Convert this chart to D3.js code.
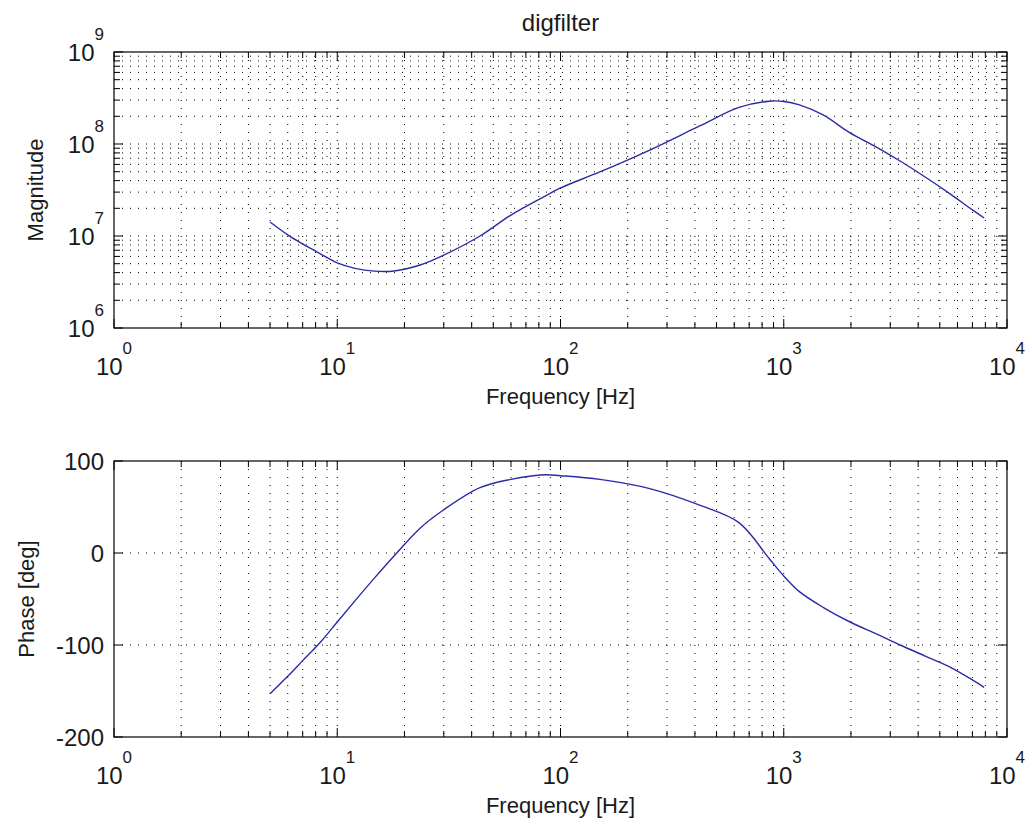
<!DOCTYPE html>
<html>
<head>
<meta charset="utf-8">
<script src="https://cdn.jsdelivr.net/npm/d3@7"></script>
<style>
  body { margin: 0; background: #fff; }
  svg { display: block; font-family: "Liberation Sans", Arial, sans-serif; }
</style>
</head>
<body>
<svg id="chart" width="1032" height="833"></svg>
<script>
// values
const freq  = [5, 6, 7, 8.4, 10, 12, 14.7, 18, 23.5, 30, 43.6, 60, 85, 100, 150, 251, 420, 630, 860, 1000, 1175, 1500, 1980, 2600, 3320, 4300, 5560, 7000, 7900];
const mag   = [1.42e7, 1.03e7, 8.2e6, 6.4e6, 5.1e6, 4.45e6, 4.15e6, 4.17e6, 4.84e6, 6.2e6, 1.0e7, 1.69e7, 2.7e7, 3.33e7, 4.97e7, 8.6e7, 1.57e8, 2.5e8, 2.92e8, 2.9e8, 2.66e8, 2.07e8, 1.32e8, 9.27e7, 6.53e7, 4.38e7, 2.87e7, 1.92e7, 1.57e7];
const phase = [-153, -134, -117, -97, -75, -52, -27, -3, 27, 47, 71, 80, 85, 84, 80, 70, 52, 33, -6, -25, -42, -59, -75, -88, -100, -112, -124, -138, -146];

const freqTicks  = [1, 10, 100, 1000, 10000];
const magTicks   = [1e6, 1e7, 1e8, 1e9];
const phaseTicks = [-200, -100, 0, 100];

const title = "digfilter";
const xLabel = "Frequency [Hz]";
const magLabel = "Magnitude";
const phaseLabel = "Phase [deg]";

const svg = d3.select("#chart");
const left = 114, right = 1007;
const lineColor = "#2b2ba6";
const textColor = "#1a1a1a";

const x = d3.scaleLog().domain([1, 1e4]).range([left, right]);

// minor values for a log range, 2..9 x 10^k
function logMinor(lo, hi) {
  const out = [];
  for (let e = Math.log10(lo); e < Math.log10(hi); e++) {
    for (let m = 2; m <= 9; m++) out.push(m * Math.pow(10, e));
  }
  return out;
}

function pow10Label(sel, v) {
  const e = Math.round(Math.log10(v));
  sel.append("tspan").text("10");
  sel.append("tspan").attr("dy", -21).attr("font-size", 17).text(e);
}

function panel(top, bottom, y, yMajor, yMinor, yLog, values, ylab, ylabX) {
  const g = svg.append("g");
  const xMinor = logMinor(1, 1e4);

  // grid
  const grid = g.append("g")
    .attr("stroke", "#000").attr("stroke-width", 1)
    .attr("stroke-dasharray", "1,7").attr("fill", "none");
  xMinor.concat(freqTicks.slice(1, -1)).forEach(v => {
    grid.append("line").attr("x1", x(v)).attr("x2", x(v)).attr("y1", top).attr("y2", bottom);
  });
  yMinor.concat(yMajor.slice(1, -1)).forEach(v => {
    grid.append("line").attr("x1", left).attr("x2", right).attr("y1", y(v)).attr("y2", y(v));
  });

  // curve
  const line = d3.line()
    .x((d, i) => x(freq[i]))
    .y(d => y(d))
    .curve(d3.curveCatmullRom.alpha(0.5));
  g.append("path")
    .datum(values)
    .attr("d", line)
    .attr("fill", "none")
    .attr("stroke", lineColor)
    .attr("stroke-width", 1.4);

  // ticks on all four sides, pointing in
  const tk = g.append("g").attr("stroke", "#000").attr("stroke-width", 1);
  freqTicks.forEach(v => {
    tk.append("line").attr("x1", x(v)).attr("x2", x(v)).attr("y1", bottom).attr("y2", bottom - 9);
    tk.append("line").attr("x1", x(v)).attr("x2", x(v)).attr("y1", top).attr("y2", top + 9);
  });
  xMinor.forEach(v => {
    tk.append("line").attr("x1", x(v)).attr("x2", x(v)).attr("y1", bottom).attr("y2", bottom - 6);
    tk.append("line").attr("x1", x(v)).attr("x2", x(v)).attr("y1", top).attr("y2", top + 6);
  });
  yMajor.forEach(v => {
    tk.append("line").attr("x1", left).attr("x2", left + 9).attr("y1", y(v)).attr("y2", y(v));
    tk.append("line").attr("x1", right).attr("x2", right - 9).attr("y1", y(v)).attr("y2", y(v));
  });
  yMinor.forEach(v => {
    tk.append("line").attr("x1", left).attr("x2", left + 6).attr("y1", y(v)).attr("y2", y(v));
    tk.append("line").attr("x1", right).attr("x2", right - 6).attr("y1", y(v)).attr("y2", y(v));
  });

  // box
  g.append("rect")
    .attr("x", left).attr("y", top)
    .attr("width", right - left).attr("height", bottom - top)
    .attr("fill", "none").attr("stroke", "#000").attr("stroke-width", 1.2);

  // x tick labels
  freqTicks.forEach(v => {
    const t = g.append("text")
      .attr("x", x(v)).attr("y", bottom + 47)
      .attr("text-anchor", "middle").attr("font-size", 24).attr("fill", textColor);
    pow10Label(t, v);
  });

  // y tick labels
  yMajor.forEach(v => {
    const t = g.append("text")
      .attr("x", 104).attr("y", y(v) + 8.5)
      .attr("text-anchor", "end").attr("font-size", 24).attr("fill", textColor);
    if (yLog) pow10Label(t, v);
    else t.text(v);
  });

  g.append("text")
    .attr("x", (left + right) / 2).attr("y", bottom + 76)
    .attr("text-anchor", "middle").attr("font-size", 22).attr("fill", textColor)
    .text(xLabel);

  g.append("text")
    .attr("transform", `translate(${ylabX},${(top + bottom) / 2}) rotate(-90)`)
    .attr("text-anchor", "middle").attr("font-size", 22).attr("fill", textColor)
    .text(ylab);
}

const yMag = d3.scaleLog().domain([1e6, 1e9]).range([328, 52]);
panel(52, 328, yMag, magTicks, logMinor(1e6, 1e9), true, mag, magLabel, 43);

const yPh = d3.scaleLinear().domain([-200, 100]).range([737, 461]);
panel(461, 737, yPh, phaseTicks, [], false, phase, phaseLabel, 34);

svg.append("text")
  .attr("x", (left + right) / 2).attr("y", 31)
  .attr("text-anchor", "middle").attr("font-size", 24).attr("fill", textColor)
  .text(title);
</script>
</body>
</html>
